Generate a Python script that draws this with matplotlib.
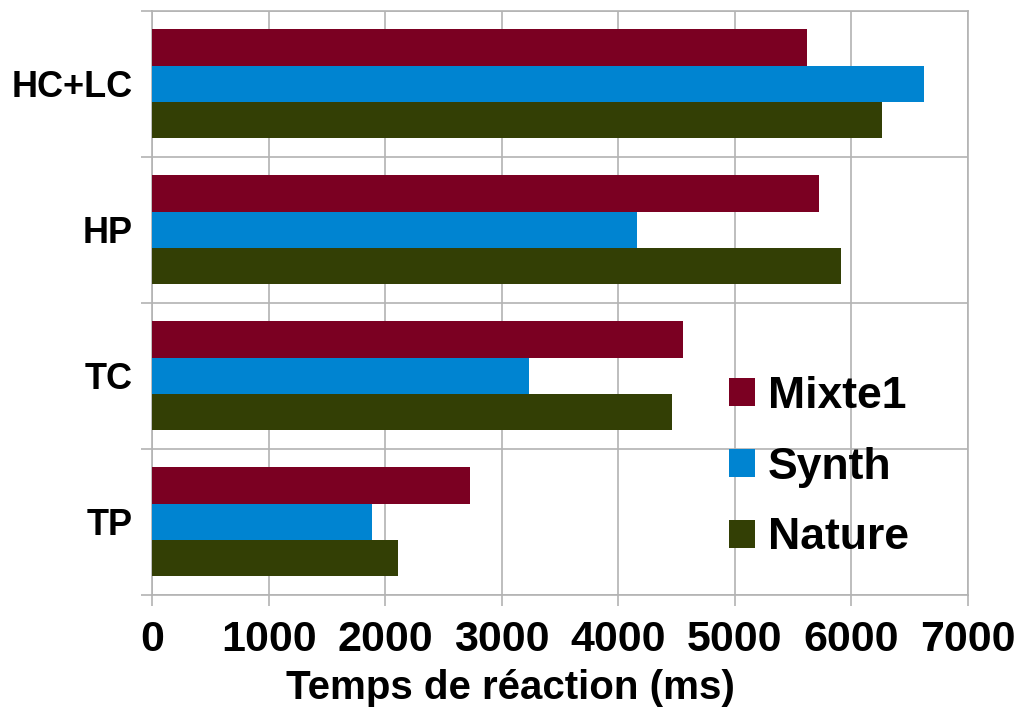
import matplotlib
matplotlib.use("Agg")
import matplotlib.pyplot as plt
import numpy as np

categories = ["HC+LC", "HP", "TC", "TP"]
series_names = ["Mixte1", "Synth", "Nature"]
mixte1 = [5620, 5720, 4555, 2730]
synth = [6625, 4160, 3235, 1890]
nature = [6265, 5910, 4460, 2110]
colors = ["#7b0022", "#0084d1", "#333f05"]
xticks = [0, 1000, 2000, 3000, 4000, 5000, 6000, 7000]

plt.rcParams['font.family'] = ['Liberation Sans', 'DejaVu Sans']
plt.rcParams['font.weight'] = 'bold'

fig = plt.figure(figsize=(10.21, 7.08), dpi=100)
ax = fig.add_axes([152/1021, 1-595/708, (968-152)/1021, (595-10.7)/708])

n = len(categories)
pos = np.arange(n)
bh = 0.2486
for i, (vals, name, c) in enumerate(zip([mixte1, synth, nature], series_names, colors)):
    ax.barh(pos + (i - 1) * bh, vals, height=bh, color=c, label=name, zorder=3)

ax.set_ylim(n - 0.5, -0.5)
ax.set_xlim(0, 7000)
ax.set_yticks(pos)
ax.set_yticklabels(categories, fontsize=26, fontweight='bold')
ax.set_yticks(np.arange(n + 1) - 0.5, minor=True)
ax.set_xticks(xticks)
ax.set_xticklabels([str(t) for t in xticks], fontsize=31, fontweight='bold')
ax.tick_params(axis='y', which='major', length=0, pad=14)
ax.tick_params(axis='y', which='minor', length=8, color='#b3b3b3', width=1.2)
ax.tick_params(axis='x', which='major', length=8, color='#b3b3b3', width=1.2, pad=10)
ax.grid(axis='x', which='major', color='#b3b3b3', linewidth=1.2, zorder=0)
ax.grid(axis='y', which='minor', color='#b3b3b3', linewidth=1.2, zorder=0)
ax.set_axisbelow(True)
for s in ax.spines.values():
    s.set_color('#b3b3b3')
    s.set_linewidth(1.2)

fig.text(0.5, 1 - 688/708, "Temps de réaction (ms)", fontsize=29, fontweight='bold',
         ha='center', va='center')

leg = ax.legend(loc='upper left', bbox_to_anchor=(711/1021, 1-358/708), bbox_transform=fig.transFigure,
                frameon=False, fontsize=32, handlelength=0.6, handleheight=0.6,
                handletextpad=0.28, labelspacing=0.67, borderaxespad=0)
for t in leg.get_texts():
    t.set_fontweight('bold')

fig.savefig("out.png", dpi=100)
